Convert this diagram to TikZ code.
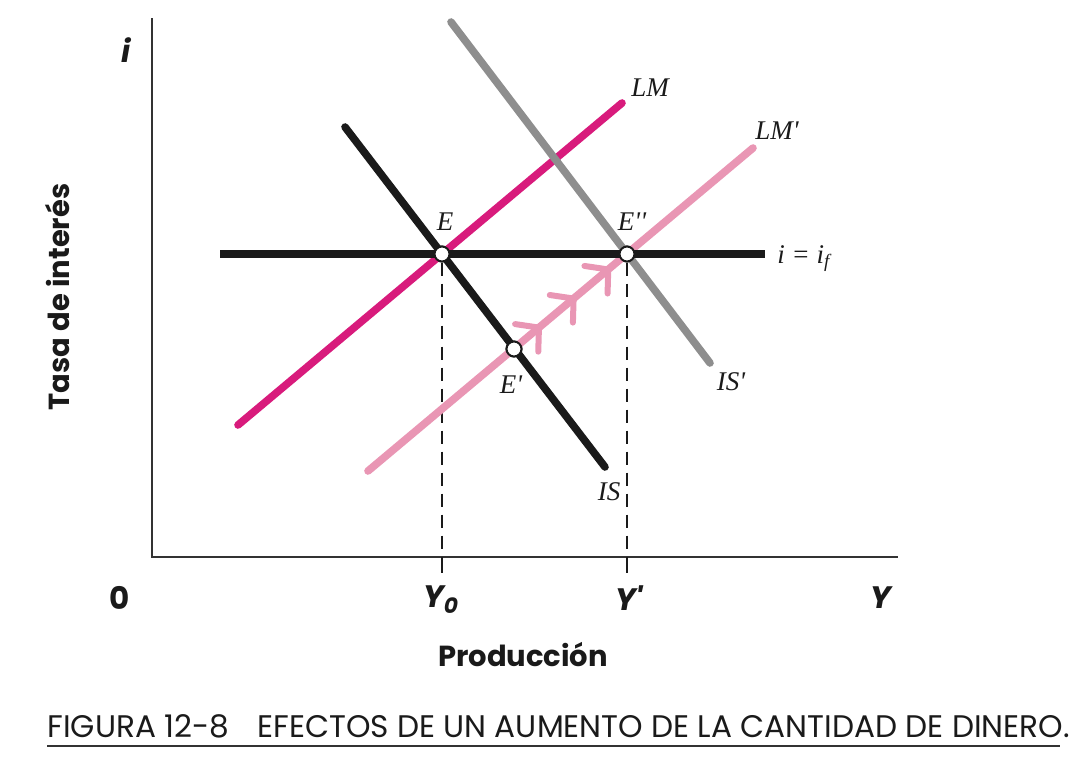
\documentclass[tikz,border=0pt]{standalone}
\usepackage{fontspec}
\setmainfont{Liberation Serif}
\setsansfont{Poppins}
\usetikzlibrary{arrows.meta,decorations.markings}
\definecolor{ink}{HTML}{1A1A1A}
\definecolor{axisgray}{HTML}{333333}
\definecolor{magentalm}{HTML}{D81B7C}
\definecolor{pinklm}{HTML}{E996B4}
\definecolor{grayis}{HTML}{8E8E8E}
\newcommand{\pr}{\textquotesingle}
\tikzset{
  axis/.style={draw=axisgray,line width=1pt},
  curve/.style={line width=3.8pt,line cap=round},
  isold/.style={curve,draw=ink},
  isnew/.style={curve,draw=grayis},
  lmold/.style={curve,draw=magentalm},
  lmnew/.style={curve,draw=pinklm},
  rate/.style={curve,draw=ink,line cap=butt},
  guide/.style={draw=ink,line width=0.8pt,dash pattern=on 6.5pt off 4pt},
  tick/.style={draw=ink,line width=0.8pt},
  eq/.style={circle,draw=ink,fill=white,line width=1pt,inner sep=0pt,minimum size=7.5pt},
  curvelabel/.style={font=\fontsize{13.5}{15}\selectfont\itshape,text=ink,inner sep=0pt},
  axislabel/.style={font=\sffamily\bfseries\fontsize{14.5}{17}\selectfont,text=ink,inner sep=0pt},
  axisvar/.style={font=\sffamily\bfseries\itshape\fontsize{15.5}{18}\selectfont,text=ink,inner sep=0pt},
  caption/.style={font=\sffamily\fontsize{15.6}{18}\selectfont,text=ink,inner sep=0pt},
  chevron/.style={postaction={decorate},decoration={markings,
    mark=at position 0.45 with {\arrow[pinklm]{Straight Barb[length=8pt,width=18pt,line width=3pt,round]}},
    mark=at position 0.54 with {\arrow[pinklm]{Straight Barb[length=8pt,width=18pt,line width=3pt,round]}},
    mark=at position 0.63 with {\arrow[pinklm]{Straight Barb[length=8pt,width=18pt,line width=3pt,round]}}}}
}
\begin{document}
\begin{tikzpicture}[x=0.5pt,y=-0.5pt]
\useasboundingbox (0,0) rectangle (1086,756);

% axes
\coordinate (origin) at (152,557);
\coordinate (itop) at (152,18);
\coordinate (yend) at (898,557);
\draw[axis] (itop) -- (origin) -- (yend);

% equilibria
\node[eq] (E) at (442,254) {};
\node[eq] (Epp) at (627,254) {};
\node[eq] (Ep) at (514,349) {};

% guides down to the output axis
\coordinate (Y0foot) at (442,557);
\coordinate (Y1foot) at (627,557);
\draw[guide] (E) -- (Y0foot);
\draw[guide] (Epp) -- (Y1foot);
\draw[tick] (Y0foot) -- ++(0,16);
\draw[tick] (Y1foot) -- ++(0,16);

% curves
\coordinate (LM-a) at (238,425);
\coordinate (LM-b) at (622,103);
\coordinate (LMp-a) at (368,471);
\coordinate (LMp-b) at (753,148);
\coordinate (IS-a) at (345,127);
\coordinate (IS-b) at (605,467);
\coordinate (ISp-a) at (451,22);
\coordinate (ISp-b) at (710,363);
\coordinate (if-a) at (220,254);
\coordinate (if-b) at (765,254);
\draw[lmold] (LM-a) -- (LM-b);
\draw[lmnew,chevron] (LMp-a) -- (LMp-b);
\draw[isnew] (ISp-a) -- (ISp-b);
\draw[isold] (IS-a) -- (IS-b);
\draw[rate] (if-a) -- (if-b);

% circles on top
\node[eq] at (E) {};
\node[eq] at (Epp) {};
\node[eq] at (Ep) {};

% curve labels
\node[curvelabel] (lblLM) at (650,88) {LM};
\node[curvelabel] (lblLMp) at (777,131) {LM\pr};
\node[curvelabel] (lblIS) at (609,492) {IS};
\node[curvelabel] (lblISp) at (731,382) {IS\pr};
\node[curvelabel] (lblE) at (445,222) {E};
\node[curvelabel] (lblEpp) at (632,222) {E\pr\pr};
\node[curvelabel] (lblEp) at (511,385) {E\pr};
\node[curvelabel,anchor=base west] (lblif) at (777,263) {i = i\textsubscript{\itshape f}};

% axis labels
\node[axisvar] (lbli) at (126,50) {i};
\node[axisvar] (lbl0) at (120,598) {\upshape 0};
\node[axisvar] (lblY0) at (441,600) {Y\textsubscript{0}};
\node[axisvar] (lblY1) at (629,598) {Y\pr};
\node[axisvar] (lblY) at (881,598) {Y};
\node[axislabel] (lblprod) at (523,655) {Producción};
\node[axislabel,rotate=90] (lblrate) at (58,297) {Tasa de interés};

% caption
\node[caption,anchor=base west] (cap) at (47,737) {FIGURA 12-8\hspace{0.9em}EFECTOS DE UN AUMENTO DE LA CANTIDAD DE DINERO.};
\coordinate (rule-a) at (47,746);
\coordinate (rule-b) at (1060,746);
\draw[draw=axisgray,line width=1pt] (rule-a) -- (rule-b);
\end{tikzpicture}
\end{document}
